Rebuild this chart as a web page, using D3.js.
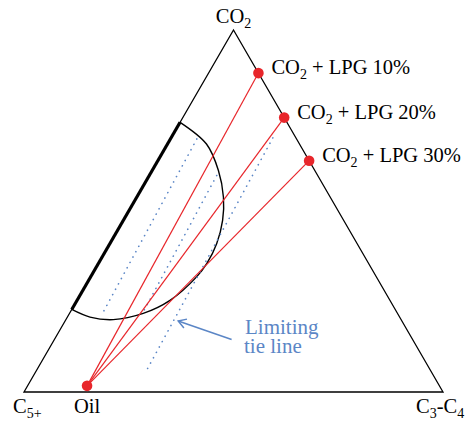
<!DOCTYPE html>
<html>
<head>
<meta charset="utf-8">
<script src="https://cdn.jsdelivr.net/npm/d3@7"></script>
<style>
  body { margin: 0; background: #fff; }
  text { font-family: "Liberation Serif", "DejaVu Serif", serif; }
</style>
</head>
<body>
<svg id="chart"></svg>
<script>
// compositions are fractions: co2 (top vertex), c34 (bottom right), rest is C5+
const injectionLabels = ['10%', '20%', '30%'];
const injectionCO2 = [0.881, 0.758, 0.639];
const injectionC34 = [0.119, 0.242, 0.361];

const oilCO2 = 0.017;
const oilC34 = 0.142;

// two-phase envelope
const envelopeCO2 = [0.745, 0.685, 0.612, 0.538, 0.474, 0.410, 0.355, 0.318, 0.253, 0.217, 0.200, 0.207, 0.228];
const envelopeC34 = [0.000, 0.093, 0.158, 0.207, 0.237, 0.255, 0.259, 0.253, 0.222, 0.176, 0.113, 0.054, 0.000];

// tie lines (dotted), the last one is the limiting tie line
const tieStartCO2 = [0.699, 0.598, 0.702];
const tieStartC34 = [0.063, 0.161, 0.243];
const tieEndCO2 = [0.212, 0.220, 0.052];
const tieEndC34 = [0.079, 0.174, 0.263];

// arrow pointing to the limiting tie line
const arrowCO2 = [0.145, 0.196];
const arrowC34 = [0.423, 0.270];
const annotationLines = ['Limiting', 'tie line'];

const width = 470, height = 423;
const red = '#e8262b', blue = '#5b86c6';
const fs = 20.5, subFs = 14;

const svg = d3.select('#chart')
    .attr('width', width)
    .attr('height', height);

const xScale = d3.scaleLinear().domain([0, 1]).range([24, 443]);
const yScale = d3.scaleLinear().domain([0, 1]).range([392, 30]);

const px = (co2, c34) => xScale(c34 + co2 / 2);
const py = (co2) => yScale(co2);

// triangle
const corners = [[1, 0], [0, 1], [0, 0]];
svg.append('path')
    .attr('d', 'M' + corners.map(c => [px(c[0], c[1]), py(c[0])].join(',')).join('L') + 'Z')
    .attr('fill', 'none')
    .attr('stroke', '#000')
    .attr('stroke-width', 1.3)
    .attr('stroke-linejoin', 'miter');

// thick part of the left edge
svg.append('line')
    .attr('x1', px(envelopeCO2[0], 0)).attr('y1', py(envelopeCO2[0]))
    .attr('x2', px(envelopeCO2[envelopeCO2.length - 1], 0)).attr('y2', py(envelopeCO2[envelopeCO2.length - 1]))
    .attr('stroke', '#000')
    .attr('stroke-width', 3.2);

// envelope
const env = envelopeCO2.map((a, i) => [px(a, envelopeC34[i]), py(a)]);
svg.append('path')
    .attr('d', d3.line().curve(d3.curveCatmullRom.alpha(0.5))(env))
    .attr('fill', 'none')
    .attr('stroke', '#000')
    .attr('stroke-width', 1.4);

// tie lines
svg.selectAll('.tie')
    .data(tieStartCO2)
    .enter()
    .append('line')
    .attr('class', 'tie')
    .attr('x1', (d, i) => px(d, tieStartC34[i]))
    .attr('y1', d => py(d))
    .attr('x2', (d, i) => px(tieEndCO2[i], tieEndC34[i]))
    .attr('y2', (d, i) => py(tieEndCO2[i]))
    .attr('stroke', blue)
    .attr('stroke-width', 1.7)
    .attr('stroke-linecap', 'round')
    .attr('stroke-dasharray', '0.1,6');

// dilution lines oil -> injection gas
const ox = px(oilCO2, oilC34), oy = py(oilCO2);
svg.selectAll('.dil')
    .data(injectionCO2)
    .enter()
    .append('line')
    .attr('class', 'dil')
    .attr('x1', ox).attr('y1', oy)
    .attr('x2', (d, i) => px(d, injectionC34[i]))
    .attr('y2', d => py(d))
    .attr('stroke', red)
    .attr('stroke-width', 1.2);

svg.selectAll('.inj')
    .data(injectionCO2)
    .enter()
    .append('circle')
    .attr('class', 'inj')
    .attr('cx', (d, i) => px(d, injectionC34[i]))
    .attr('cy', d => py(d))
    .attr('r', 5.3)
    .attr('fill', red);

svg.append('circle')
    .attr('cx', ox).attr('cy', oy)
    .attr('r', 5.3)
    .attr('fill', red);

// injection labels
const labels = svg.selectAll('.lab')
    .data(injectionCO2)
    .enter()
    .append('text')
    .attr('class', 'lab')
    .attr('x', (d, i) => px(d, injectionC34[i]) + 13)
    .attr('y', d => py(d) + 1)
    .style('font-size', fs + 'px');
labels.append('tspan').text('CO');
labels.append('tspan').attr('dy', 5).style('font-size', subFs + 'px').text('2');
labels.append('tspan').attr('dy', -5).text((d, i) => ` + LPG ${injectionLabels[i]}`);

// vertex labels
const topLabel = svg.append('text')
    .attr('x', px(1, 0)).attr('y', 23)
    .attr('text-anchor', 'middle')
    .style('font-size', fs + 'px');
topLabel.append('tspan').text('CO');
topLabel.append('tspan').attr('dy', 5).style('font-size', subFs + 'px').text('2');

const c5Label = svg.append('text')
    .attr('x', 13).attr('y', 413)
    .style('font-size', fs + 'px');
c5Label.append('tspan').text('C');
c5Label.append('tspan').attr('dy', 5).style('font-size', subFs + 'px').text('5+');

const c34Label = svg.append('text')
    .attr('x', 416).attr('y', 413)
    .style('font-size', fs + 'px');
c34Label.append('tspan').text('C');
c34Label.append('tspan').attr('dy', 5).style('font-size', subFs + 'px').text('3');
c34Label.append('tspan').attr('dy', -5).text('-C');
c34Label.append('tspan').attr('dy', 5).style('font-size', subFs + 'px').text('4');

svg.append('text')
    .attr('x', ox).attr('y', 413)
    .attr('text-anchor', 'middle')
    .style('font-size', fs + 'px')
    .text('Oil');

// annotation
const ax1 = px(arrowCO2[0], arrowC34[0]), ay1 = py(arrowCO2[0]);
const ax2 = px(arrowCO2[1], arrowC34[1]), ay2 = py(arrowCO2[1]);
svg.append('line')
    .attr('x1', ax1).attr('y1', ay1)
    .attr('x2', ax2).attr('y2', ay2)
    .attr('stroke', blue)
    .attr('stroke-width', 1.5);
const ang = Math.atan2(ay1 - ay2, ax1 - ax2);
const head = [ang - 0.55, ang + 0.55].map(t => [ax2 + 9 * Math.cos(t), ay2 + 9 * Math.sin(t)]);
svg.append('path')
    .attr('d', `M${head[0]}L${ax2},${ay2}L${head[1]}`)
    .attr('fill', 'none')
    .attr('stroke', blue)
    .attr('stroke-width', 1.5);

svg.append('text')
    .attr('y', 334)
    .attr('fill', blue)
    .style('font-size', '21px')
    .selectAll('tspan')
    .data(annotationLines)
    .enter()
    .append('tspan')
    .attr('x', (d, i) => 245 - i)
    .attr('dy', (d, i) => i ? 19 : 0)
    .text(d => d);
</script>
</body>
</html>
